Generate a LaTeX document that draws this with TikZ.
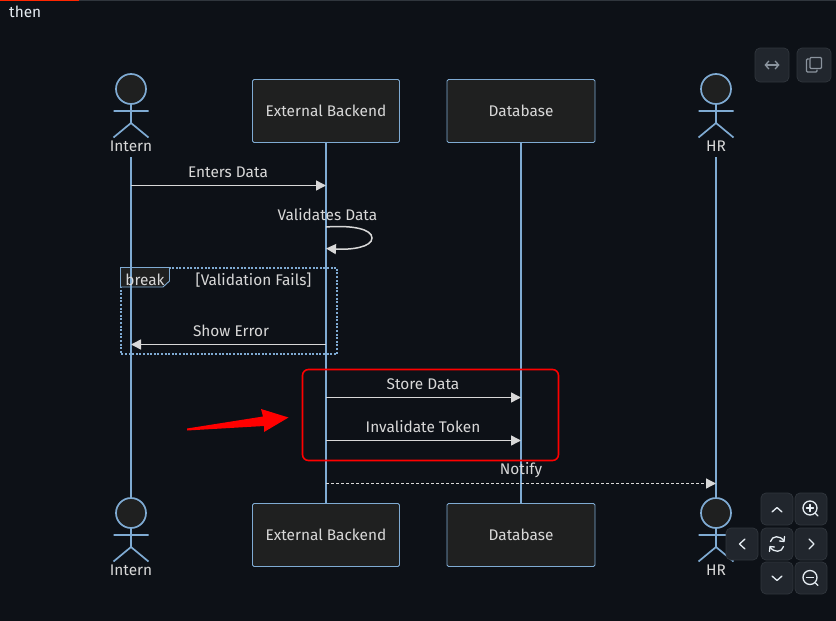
\documentclass[tikz,border=0pt]{standalone}
\usepackage{fontspec}
\setmainfont{Fira Sans}
\usetikzlibrary{arrows.meta}
\usetikzlibrary{positioning}
\definecolor{pagebg}{HTML}{0D1117}
\definecolor{actorfill}{HTML}{1F2020}
\definecolor{actorline}{HTML}{7FABD3}
\definecolor{msgcol}{HTML}{D8D8D8}
\definecolor{btnfill}{HTML}{21262D}
\definecolor{btnline}{HTML}{30363D}
\definecolor{icondim}{HTML}{8B949E}
\definecolor{iconlight}{HTML}{E6EDF3}
\definecolor{markred}{HTML}{FF0000}
\tikzset{
  actorbox/.style={draw=actorline,fill=actorfill,rounded corners=1.5pt,line width=0.8pt,minimum width=147pt,minimum height=63pt,inner sep=0pt,text=msgcol,font=\fontsize{15.4}{17}\selectfont},
  actorhead/.style={circle,draw=actorline,fill=actorfill,line width=1.7pt,minimum size=30pt,inner sep=0pt},
  actorlimb/.style={draw=actorline,line width=1.7pt},
  actorname/.style={minimum height=22pt,inner sep=0pt,text=msgcol,font=\fontsize{15.4}{17}\selectfont},
  lifeline/.style={draw=actorline,line width=2pt},
  msg/.style={draw=msgcol,line width=1.5pt,-{Triangle[length=10pt,width=10pt]}},
  msgtext/.style={inner sep=0pt,text=msgcol,font=\fontsize{15.4}{17}\selectfont},
  btnbox/.style={draw=btnline,fill=btnfill,rounded corners=5pt,line width=0.7pt,minimum size=32pt,inner sep=0pt},
  icon/.style={draw=iconlight,line width=1.3pt,line cap=round,line join=round},
  dimicon/.style={draw=icondim,line width=1.3pt,line cap=round,line join=round},
}
\begin{document}
\begin{tikzpicture}[x=1pt,y=-1pt]
\useasboundingbox (0,0) rectangle (836,621);
\fill[pagebg] (0,0) rectangle (836,621);
\fill[btnline] (0,0) rectangle (836,1.2);
\fill[red!70!orange] (0,0) rectangle (79,1.2);
\node[msgtext,text=iconlight,anchor=west] (thenlabel) at (9,12) {then};

% break frame goes under the lifelines
\draw[actorline,line width=2pt,dash pattern=on 2pt off 1.6pt] (121,268) rectangle (337,354);
\draw[actorline,fill=actorfill,line width=0.9pt] (120.5,267.5) -- (169.5,267.5) -- (169.5,281) -- (163,287) -- (120.5,287) -- cycle;

% actors, top and bottom
\foreach \nm/\x/\lab in {intern/131/Intern,hr/716/HR}{
  \draw[actorlimb] (\x,104) -- (\x,123) (\x-17.5,111) -- (\x+17.5,111) (\x-17.5,137.5) -- (\x,123) -- (\x+17.5,137.5);
  \node[actorhead] (\nm HeadT) at (\x,89) {};
  \node[actorname] (\nm T) at (\x,146) {\lab};
  \draw[actorlimb] (\x,528) -- (\x,547) (\x-17.5,535) -- (\x+17.5,535) (\x-17.5,561.5) -- (\x,547) -- (\x+17.5,561.5);
  \node[actorhead] (\nm HeadB) at (\x,513) {};
  \node[actorname] (\nm B) at (\x,570) {\lab};
}
\node[actorbox] (backendT) at (326,111) {External Backend};
\node[actorbox] (backendB) at (326,535) {External Backend};
\node[actorbox,minimum width=148pt] (dbT) at (521,111) {Database};
\node[actorbox,minimum width=148pt] (dbB) at (521,535) {Database};

\draw[lifeline] (internT.south) -- (internHeadB.north);
\draw[lifeline] (backendT.south) -- (backendB.north);
\draw[lifeline] (dbT.south) -- (dbB.north);
\draw[lifeline] (hrT.south) -- (hrHeadB.north);

% messages
\node[msgtext] (entersLabel) at (228,172) {Enters Data};
\draw[msg] (internT.south |- 0,185.5) -- (backendT.south |- 0,185.5);
\node[msgtext] (validatesLabel) at (327.5,215) {Validates Data};
\draw[msg] (backendT.south |- 0,227) .. controls (352,225) and (372,229) .. (372,238) .. controls (372,247) and (352,250) .. (backendT.south |- 0,248.5);
\node[msgtext] (breakLabel) at (145,279.5) {break};
\node[msgtext] (failsLabel) at (253.5,280) {[Validation Fails]};
\node[msgtext] (errorLabel) at (231,331) {Show Error};
\draw[msg] (backendT.south |- 0,344.5) -- (internT.south |- 0,344.5);
\node[msgtext] (storeLabel) at (423,384) {Store Data};
\draw[msg] (backendT.south |- 0,397.5) -- (dbT.south |- 0,397.5);
\node[msgtext] (tokenLabel) at (423,427) {Invalidate Token};
\draw[msg] (backendT.south |- 0,440.5) -- (dbT.south |- 0,440.5);
\node[msgtext] (notifyLabel) at (521,470) {Notify};
\draw[msg,line width=1.3pt,dash pattern=on 3pt off 2pt] (backendT.south |- 0,483.5) -- (hrT.south |- 0,483.5);

% red marks
\draw[markred,line width=1.6pt,rounded corners=6pt] (302.5,369.5) rectangle (558.5,460.5);
\fill[markred] (187,428.5) -- (263,416.5) -- (261,409) -- (288.5,417.5) -- (264,432) -- (264,426) -- (187,430.5) -- cycle;

% buttons
\node[btnbox,minimum size=34pt] (wideBtn) at (772,65) {};
\node[btnbox,minimum size=34pt] (copyBtn) at (814,65) {};
\draw[dimicon,{Straight Barb[length=3.5pt,width=8pt]}-{Straight Barb[length=3.5pt,width=8pt]}] (764.5,65) -- (779.5,65);
\draw[dimicon,rounded corners=1pt] (808.5,59) -- (806.5,59) -- (806.5,72) -- (817,72) -- (817,70);
\draw[dimicon,rounded corners=1pt] (810,57.5) rectangle (821.5,68.5);

\node[btnbox] (upBtn) at (777,509) {};
\node[btnbox] (zoominBtn) at (811,509) {};
\node[btnbox] (leftBtn) at (742,544) {};
\node[btnbox] (resetBtn) at (777,544) {};
\node[btnbox] (rightBtn) at (811,544) {};
\node[btnbox] (downBtn) at (777,578) {};
\node[btnbox] (zoomoutBtn) at (811,578) {};

\draw[icon] (772,512) -- (777,507.5) -- (782,512);
\draw[icon] (772,576) -- (777,580.5) -- (782,576);
\draw[icon] (745,539) -- (739.5,544) -- (745,549);
\draw[icon] (809,539) -- (814,544) -- (809,549);
\draw[icon] (810,508) circle (7);
\draw[icon] (815.5,513.5) -- (818,516);
\draw[icon] (806.5,508) -- (813.5,508) (810,504.5) -- (810,511.5);
\draw[icon] (810,577.5) circle (7);
\draw[icon] (815.5,583) -- (818,585.5);
\draw[icon] (806.5,577.5) -- (813.5,577.5);
\draw[icon] (770.5,541.5) .. controls (772,535.5) and (780,535) .. (784,541);
\draw[icon] (783.5,546.5) .. controls (782,552.5) and (774,553) .. (770,547);
\draw[icon] (784.5,536.5) -- (784,541.5) -- (779.5,541);
\draw[icon] (769.5,551.5) -- (770,546.5) -- (774.5,547);
\end{tikzpicture}
\end{document}
